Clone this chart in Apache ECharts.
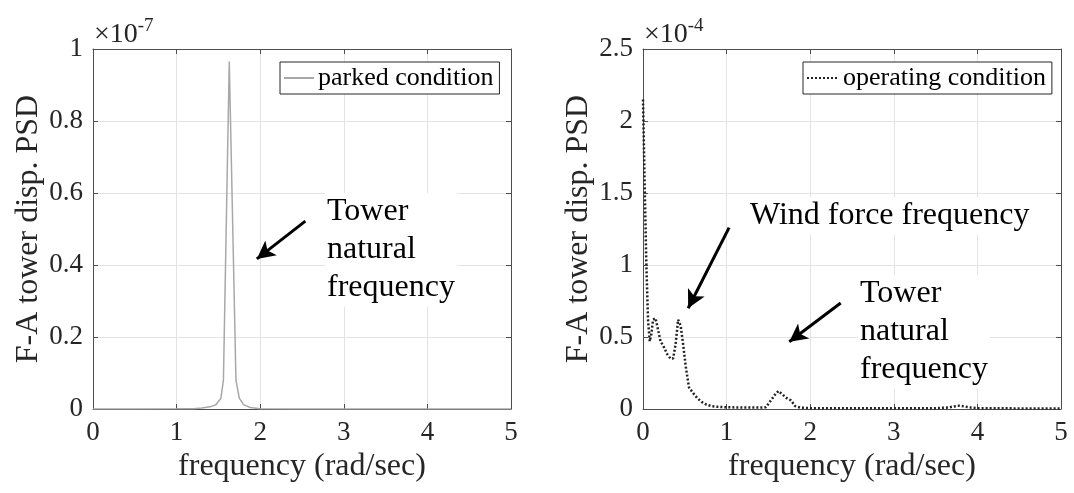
<!DOCTYPE html>
<html>
<head>
<meta charset="utf-8">
<script src="https://cdn.jsdelivr.net/npm/echarts@6/dist/echarts.min.js"></script>
<style>
  html, body { margin: 0; padding: 0; background: #fff; }
  #chart { width: 1074px; height: 493px; }
</style>
</head>
<body>
<div id="chart"></div>
<script>
// Fore-aft tower displacement PSD, parked (values in units of 1e-7)
const freqParked = [0, 0.5, 1.0, 1.2, 1.3, 1.4, 1.47, 1.53, 1.56, 1.63, 1.71, 1.75, 1.8, 1.88, 2.0, 2.5, 3.0, 4.0, 5.0];
const psdParked  = [0, 0, 0.0005, 0.001, 0.003, 0.006, 0.012, 0.03, 0.08, 0.965, 0.08, 0.03, 0.012, 0.004, 0.001, 0, 0, 0, 0];

// Fore-aft tower displacement PSD, operating (values in units of 1e-4)
const freqOperating = [0, 0.02, 0.04, 0.06, 0.08, 0.10, 0.12, 0.15, 0.18, 0.21, 0.25, 0.29, 0.33, 0.36, 0.39, 0.42, 0.45, 0.48, 0.51, 0.55, 0.60, 0.65, 0.70, 0.76, 0.82, 0.90, 1.0, 1.2, 1.4, 1.47, 1.53, 1.58, 1.62, 1.67, 1.72, 1.77, 1.82, 1.88, 2.0, 2.5, 3.0, 3.5, 3.65, 3.72, 3.78, 3.84, 3.92, 4.0, 4.5, 5.0];
const psdOperating  = [2.15, 1.55, 1.0, 0.62, 0.47, 0.52, 0.62, 0.63, 0.55, 0.47, 0.43, 0.38, 0.35, 0.35, 0.45, 0.62, 0.58, 0.45, 0.3, 0.15, 0.11, 0.075, 0.05, 0.03, 0.02, 0.015, 0.012, 0.01, 0.01, 0.012, 0.06, 0.1, 0.125, 0.1, 0.075, 0.06, 0.02, 0.01, 0.006, 0.005, 0.005, 0.006, 0.01, 0.018, 0.023, 0.018, 0.01, 0.006, 0.004, 0.003];

const xRange = [0, 5, 1];
const yRangeParked = [0, 1, 0.2];
const yRangeOperating = [0, 2.5, 0.5];

const seriesNames = ['parked condition', 'operating condition'];
const xTitle = 'frequency (rad/sec)';
const yTitle = 'F-A tower disp. PSD';
const exponents = ['-7', '-4'];

// Arrow endpoints in data space: [fromX, fromY, toX, toY]
const arrowParked = [2.54, 0.522, 1.96, 0.417];
const arrowsOperating = [[1.03, 1.26, 0.54, 0.70], [2.365, 0.736, 1.75, 0.467]];

const FONT = '"Liberation Serif", "Times New Roman", serif';
const INK = '#262626';
const AXIS = '#4d4d4d';
const GRID = '#e3e3e3';

const chart = echarts.init(document.getElementById('chart'), null, { renderer: 'canvas' });

const pairs = (xs, ys) => xs.map((x, i) => [x, ys[i]]);

function xAxes(gridIndex) {
  const base = {
    type: 'value', gridIndex,
    min: xRange[0], max: xRange[1], interval: xRange[2],
    axisLine: { show: true, onZero: false, lineStyle: { color: AXIS, width: 1 } },
    axisTick: { show: true, inside: true, length: 5, lineStyle: { color: AXIS } },
    splitLine: { show: false }
  };
  return [
    Object.assign({}, base, {
      position: 'bottom',
      name: xTitle, nameLocation: 'middle', nameGap: 41,
      nameTextStyle: { fontFamily: FONT, fontSize: 32, color: INK },
      axisLabel: { show: true, margin: 10, fontFamily: FONT, fontSize: 27, color: INK,
                   showMinLabel: true, showMaxLabel: true, hideOverlap: false },
      splitLine: { show: true, lineStyle: { color: GRID, width: 1 } }
    }),
    Object.assign({}, base, { position: 'top', axisLabel: { show: false } })
  ];
}

function yAxes(gridIndex, range) {
  const base = {
    type: 'value', gridIndex,
    min: range[0], max: range[1], interval: range[2],
    axisLine: { show: true, onZero: false, lineStyle: { color: AXIS, width: 1 } },
    axisTick: { show: true, inside: true, length: 5, lineStyle: { color: AXIS } },
    splitLine: { show: false }
  };
  return [
    Object.assign({}, base, {
      position: 'left',
      name: yTitle, nameLocation: 'middle', nameGap: 48, nameRotate: 90,
      nameTextStyle: { fontFamily: FONT, fontSize: 32, color: INK },
      axisLabel: { show: true, margin: 10, fontFamily: FONT, fontSize: 27, color: INK,
                   showMinLabel: true, showMaxLabel: true, hideOverlap: false },
      splitLine: { show: true, lineStyle: { color: GRID, width: 1 } }
    }),
    Object.assign({}, base, { position: 'right', axisLabel: { show: false } })
  ];
}

function arrowLine(a) {
  return [
    { coord: [a[0], a[1]], symbol: 'none' },
    { coord: [a[2], a[3]], symbol: 'arrow', symbolSize: [14, 18] }
  ];
}

const arrowMark = (list) => ({
  silent: true, animation: false,
  symbol: ['none', 'arrow'],
  label: { show: false },
  emphasis: { disabled: true },
  lineStyle: { color: '#000', width: 3, type: 'solid' },
  data: list.map(arrowLine)
});

function exponentTitle(left, exp) {
  return {
    text: '{m|×10}{e|' + exp + '}',
    left, top: 17, padding: 0,
    textStyle: {
      fontWeight: 'normal',
      rich: {
        m: { fontFamily: FONT, fontSize: 28, fontWeight: 'normal', color: INK },
        e: { fontFamily: FONT, fontSize: 19, fontWeight: 'normal', color: INK, padding: [0, 0, 17, 0] }
      }
    }
  };
}

function legendBox(name, left, iconWidth) {
  return {
    data: [name], left, top: 62,
    orient: 'vertical', itemWidth: iconWidth, itemHeight: 14, itemGap: 0,
    padding: [3, 6, 3, 3],
    itemStyle: { opacity: 0 },
    backgroundColor: '#fff', borderColor: INK, borderWidth: 1, borderRadius: 0,
    textStyle: { fontFamily: FONT, fontSize: 26, color: '#000', padding: [0, 0, 0, -1] },
    selectedMode: false
  };
}

// Callout text blocks sit on a white box so the grid does not run through them
function callout(text, x, y) {
  return {
    type: 'text', silent: true, z: 50,
    style: { text, x, y, font: '32px ' + FONT, lineHeight: 38, fill: '#000',
             verticalAlign: 'top', backgroundColor: '#fff', padding: [0, 2, 0, 2] }
  };
}

const option = {
  backgroundColor: '#fff',
  animation: false,
  title: [exponentTitle(94, exponents[0]), exponentTitle(644, exponents[1])],
  grid: [
    { left: 93, right: 563, top: 49, bottom: 84, containLabel: false },
    { left: 643, right: 13, top: 49, bottom: 84, containLabel: false }
  ],
  xAxis: [...xAxes(0), ...xAxes(1)],
  yAxis: [...yAxes(0, yRangeParked), ...yAxes(1, yRangeOperating)],
  legend: [legendBox(seriesNames[0], 280, 30), legendBox(seriesNames[1], 803, 32)],
  series: [
    {
      name: seriesNames[0], type: 'line', xAxisIndex: 0, yAxisIndex: 0,
      data: pairs(freqParked, psdParked),
      showSymbol: false, symbol: 'none', smooth: false,
      lineStyle: { color: '#a8a8a8', width: 1.5 },
      itemStyle: { color: '#a8a8a8' },
      markLine: arrowMark([arrowParked])
    },
    {
      name: seriesNames[1], type: 'line', xAxisIndex: 2, yAxisIndex: 2,
      data: pairs(freqOperating, psdOperating),
      showSymbol: false, symbol: 'none', smooth: false,
      lineStyle: { color: '#222', width: 2.5, type: [2, 2] },
      itemStyle: { color: '#222' },
      markLine: arrowMark(arrowsOperating)
    }
  ],
  graphic: [
    callout('Tower\nnatural\nfrequency', 325, 193),
    callout('Wind force frequency', 748, 197),
    callout('Tower\nnatural\nfrequency', 858, 275)
  ]
};

chart.setOption(option);
</script>
</body>
</html>
